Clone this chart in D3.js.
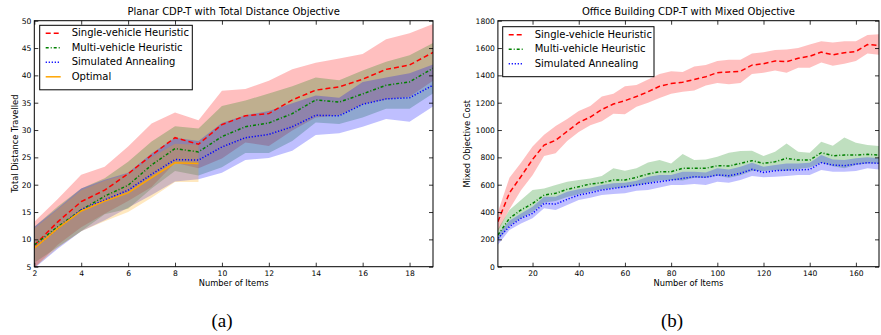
<!DOCTYPE html>
<html>
<head>
<meta charset="utf-8">
<script src="https://cdn.jsdelivr.net/npm/d3@7"></script>
<style>
  body { margin: 0; background: #fff; }
  svg { display: block; font-family: "DejaVu Sans", sans-serif; }
</style>
</head>
<body>
<svg width="881" height="335"></svg>
<script>
// ---- Panel (a): planar CDP-T, total distance ----
const itemsA = [2, 3, 4, 5, 6, 7, 8, 9, 10, 11, 12, 13, 14, 15, 16, 17, 18, 19];
const singleMeanA = [8.9, 13.2, 16.9, 19.0, 22.0, 25.4, 28.6, 27.4, 31.0, 32.6, 33.0, 35.5, 37.3, 37.9, 39.3, 41.1, 41.9, 44.2];
const singleHiA = [13.2, 17.4, 21.8, 23.3, 27.0, 31.2, 33.2, 31.8, 37.2, 37.5, 39.0, 41.1, 42.3, 43.1, 43.9, 46.6, 47.7, 49.4];
const singleLoA = [4.8, 9.0, 12.2, 14.7, 17.0, 19.6, 24.0, 23.0, 24.8, 27.7, 27.1, 29.9, 32.3, 32.7, 34.7, 35.6, 36.1, 39.0];
const multiMeanA = [9.0, 12.3, 15.4, 17.9, 19.9, 23.6, 26.6, 26.0, 28.8, 30.6, 31.3, 33.0, 35.5, 35.1, 36.6, 38.2, 38.8, 41.3];
const multiHiA = [12.3, 16.0, 19.3, 21.2, 24.2, 27.9, 30.7, 30.3, 34.4, 35.4, 36.7, 38.0, 39.6, 39.1, 40.9, 42.5, 43.7, 45.9];
const multiLoA = [5.7, 8.6, 11.5, 14.6, 15.6, 19.3, 22.5, 21.7, 23.2, 25.8, 25.8, 28.0, 31.4, 31.1, 32.3, 33.9, 33.9, 36.7];
const annealMeanA = [8.5, 12.0, 15.4, 17.2, 19.0, 21.9, 24.6, 24.5, 26.9, 28.6, 29.2, 30.6, 32.7, 32.6, 34.7, 35.7, 35.9, 38.2];
const annealHiA = [12.3, 15.7, 19.3, 20.9, 22.2, 25.7, 28.6, 28.0, 31.3, 32.7, 33.5, 34.9, 36.3, 35.9, 38.8, 39.6, 40.4, 42.0];
const annealLoA = [4.7, 8.3, 11.5, 13.5, 15.8, 18.1, 20.6, 21.0, 22.2, 24.5, 24.9, 26.2, 29.1, 29.4, 30.6, 32.0, 31.5, 34.3];
const itemsOpt = [2, 3, 4, 5, 6, 7, 8, 9];
const optimalMeanA = [8.4, 12.0, 15.2, 17.0, 18.5, 21.3, 24.0, 23.9];
const optimalHiA = [12.0, 15.5, 19.0, 20.7, 22.0, 25.0, 27.5, 27.3];
const optimalLoA = [4.8, 8.5, 11.5, 13.3, 15.0, 17.6, 20.5, 20.5];
const xTicksA = [2, 4, 6, 8, 10, 12, 14, 16, 18];
const yTicksA = [5, 10, 15, 20, 25, 30, 35, 40, 45, 50];

// ---- Panel (b): office building CDP-T, mixed objective ----
const itemsB = d3.range(5, 171, 5); // 5, 10, ... 170 (axis positions only)
const singleMeanB = [330, 540, 660, 785, 890, 925, 990, 1055, 1095, 1150, 1190, 1215, 1245, 1280, 1320, 1340, 1350, 1370, 1390, 1420, 1425, 1430, 1475, 1485, 1505, 1500, 1525, 1540, 1570, 1550, 1565, 1575, 1625, 1620];
const singleHiB = [400, 650, 760, 880, 965, 1030, 1080, 1140, 1175, 1245, 1265, 1320, 1330, 1370, 1410, 1430, 1425, 1465, 1475, 1505, 1515, 1515, 1560, 1570, 1585, 1590, 1600, 1625, 1650, 1640, 1650, 1650, 1695, 1700];
const singleLoB = [260, 420, 560, 670, 810, 830, 920, 985, 1035, 1065, 1120, 1115, 1170, 1200, 1235, 1265, 1280, 1290, 1325, 1345, 1335, 1345, 1410, 1420, 1435, 1420, 1455, 1455, 1495, 1470, 1485, 1505, 1560, 1550];
const multiMeanB = [232, 354, 415, 463, 524, 537, 566, 585, 605, 615, 634, 634, 654, 678, 695, 695, 720, 720, 720, 739, 737, 756, 776, 756, 768, 793, 780, 780, 834, 812, 817, 817, 822, 817];
const multiHiB = [275, 415, 488, 561, 573, 598, 622, 634, 646, 663, 720, 702, 720, 763, 780, 756, 824, 780, 785, 805, 834, 846, 849, 810, 841, 902, 841, 834, 915, 885, 946, 907, 890, 883];
const multiLoB = [190, 300, 355, 400, 470, 480, 510, 530, 550, 565, 575, 580, 595, 610, 630, 635, 630, 650, 650, 665, 650, 670, 700, 700, 705, 700, 715, 725, 760, 735, 720, 745, 755, 755];
const annealMeanB = [208, 293, 354, 390, 463, 458, 493, 524, 541, 561, 573, 585, 598, 610, 622, 634, 646, 659, 654, 671, 666, 683, 712, 690, 702, 707, 707, 712, 761, 744, 739, 751, 761, 756];
const annealHiB = [240, 337, 390, 439, 512, 512, 549, 566, 580, 598, 610, 615, 629, 659, 671, 671, 695, 695, 690, 720, 712, 732, 761, 732, 744, 756, 756, 761, 817, 785, 780, 793, 800, 793];
const annealLoB = [160, 268, 317, 354, 427, 415, 451, 488, 505, 524, 532, 537, 556, 561, 580, 598, 598, 605, 598, 622, 615, 634, 663, 654, 659, 663, 671, 671, 707, 695, 695, 700, 720, 712];
const xTicksB = [20, 40, 60, 80, 100, 120, 140, 160];
const yTicksB = [0, 200, 400, 600, 800, 1000, 1200, 1400, 1600, 1800];

const RED = "#ff0000";
const GREEN = "#008000";
const BLUE = "#0000ff";
const ORANGE = "#ffa500";

const svg = d3.select("svg");

function zip(xs, mean, lo, hi) {
  return xs.map((x, i) => ({ x, y: mean[i], lo: lo[i], hi: hi[i] }));
}

function drawPanel(p) {
  const x = d3.scaleLinear().domain(p.xDomain).range([p.left, p.right]);
  const y = d3.scaleLinear().domain(p.yDomain).range([p.bottom, p.top]);

  const g = svg.append("g");

  g.append("clipPath")
    .attr("id", p.id + "-clip")
    .append("rect")
    .attr("x", p.left)
    .attr("y", p.top)
    .attr("width", p.right - p.left)
    .attr("height", p.bottom - p.top);

  const plot = g.append("g").attr("clip-path", `url(#${p.id}-clip)`);

  const area = d3
    .area()
    .x((d) => x(d.x))
    .y0((d) => y(d.lo))
    .y1((d) => y(d.hi));

  const line = d3
    .line()
    .x((d) => x(d.x))
    .y((d) => y(d.y));

  // bands first, then the mean lines on top
  p.series.forEach((s) => {
    plot
      .append("path")
      .datum(s.data)
      .attr("d", area)
      .attr("fill", s.color)
      .attr("fill-opacity", 0.25)
      .attr("stroke", "none");
  });

  p.series.forEach((s) => {
    plot
      .append("path")
      .datum(s.data)
      .attr("d", line)
      .attr("fill", "none")
      .attr("stroke", s.color)
      .attr("stroke-width", 1.5)
      .attr("stroke-dasharray", s.dash);
  });

  // ---- axes, matplotlib style: ticks point inward on all four sides ----
  const fmt = d3.format("d");
  const axisStyle = (sel) => {
    sel.select(".domain").remove();
    sel.selectAll(".tick line").attr("stroke", "#000").attr("stroke-width", 0.8);
    sel.selectAll(".tick text").attr("fill", "#000").style("font-size", "7.6px");
  };

  g.append("g")
    .attr("transform", `translate(0,${p.bottom})`)
    .call(d3.axisBottom(x).tickValues(p.xTicks).tickFormat(fmt).tickSize(-4).tickPadding(4))
    .call(axisStyle)
    .attr("font-family", null);

  g.append("g")
    .attr("transform", `translate(0,${p.top})`)
    .call(d3.axisTop(x).tickValues(p.xTicks).tickSize(-4).tickFormat(""))
    .call(axisStyle);

  g.append("g")
    .attr("transform", `translate(${p.left},0)`)
    .call(d3.axisLeft(y).tickValues(p.yTicks).tickFormat(fmt).tickSize(-4).tickPadding(3))
    .call(axisStyle)
    .attr("font-family", null);

  g.append("g")
    .attr("transform", `translate(${p.right},0)`)
    .call(d3.axisRight(y).tickValues(p.yTicks).tickSize(-4).tickFormat(""))
    .call(axisStyle);

  g.append("rect")
    .attr("x", p.left)
    .attr("y", p.top)
    .attr("width", p.right - p.left)
    .attr("height", p.bottom - p.top)
    .attr("fill", "none")
    .attr("stroke", "#000")
    .attr("stroke-width", 1);

  // titles
  g.append("text")
    .attr("x", (p.left + p.right) / 2)
    .attr("y", 15)
    .attr("text-anchor", "middle")
    .style("font-size", "10px")
    .text(p.title);

  g.append("text")
    .attr("x", (p.left + p.right) / 2)
    .attr("y", 286)
    .attr("text-anchor", "middle")
    .style("font-size", "8.3px")
    .text("Number of Items");

  g.append("text")
    .attr("transform", `translate(${p.yLabelX},${(p.top + p.bottom) / 2}) rotate(-90)`)
    .attr("text-anchor", "middle")
    .attr("dominant-baseline", "middle")
    .style("font-size", "8.3px")
    .text(p.yLabel);

  // ---- legend ----
  const lg = g.append("g").attr("transform", `translate(${p.left + p.legend.dx},${p.top + p.legend.dy})`);
  const rowH = 14.5;
  lg.append("rect")
    .attr("width", p.legend.w)
    .attr("height", 8 + rowH * p.series.length - 1.5)
    .attr("fill", "#fff")
    .attr("stroke", "#000")
    .attr("stroke-width", 1);

  p.series.forEach((s, i) => {
    const cy = 8 + i * rowH;
    lg.append("line")
      .attr("x1", 6)
      .attr("x2", 21)
      .attr("y1", cy)
      .attr("y2", cy)
      .attr("stroke", s.color)
      .attr("stroke-width", 1.5)
      .attr("stroke-dasharray", s.dash);
    lg.append("text")
      .attr("x", 32)
      .attr("y", cy)
      .attr("dominant-baseline", "middle")
      .style("font-size", "10px")
      .text(s.name);
  });

  // caption below the panel
  svg.append("text")
    .attr("x", p.captionX)
    .attr("y", 327)
    .attr("text-anchor", "middle")
    .style("font-family", "'Liberation Serif', serif")
    .style("font-size", "19px")
    .text(p.caption);
}

drawPanel({
  id: "a",
  left: 34.3,
  right: 433,
  top: 20.7,
  bottom: 266.7,
  xDomain: [2, 19],
  yDomain: [5, 50],
  xTicks: xTicksA,
  yTicks: yTicksA,
  title: "Planar CDP-T with Total Distance Objective",
  yLabel: "Total Distance Travelled",
  yLabelX: 15.5,
  caption: "(a)",
  captionX: 222,
  legend: { dx: 5.4, dy: 4.6, w: 152.6 },
  series: [
    { name: "Single-vehicle Heuristic", color: RED, dash: "5,3", data: zip(itemsA, singleMeanA, singleLoA, singleHiA) },
    { name: "Multi-vehicle Heuristic", color: GREEN, dash: "3,2,1,2", data: zip(itemsA, multiMeanA, multiLoA, multiHiA) },
    { name: "Simulated Annealing", color: BLUE, dash: "1.2,1.8", data: zip(itemsA, annealMeanA, annealLoA, annealHiA) },
    { name: "Optimal", color: ORANGE, dash: null, data: zip(itemsOpt, optimalMeanA, optimalLoA, optimalHiA) },
  ],
});

drawPanel({
  id: "b",
  left: 497.9,
  right: 879,
  top: 20.7,
  bottom: 266.7,
  xDomain: [5, 170],
  yDomain: [0, 1800],
  xTicks: xTicksB,
  yTicks: yTicksB,
  title: "Office Building CDP-T with Mixed Objective",
  yLabel: "Mixed Objective Cost",
  yLabelX: 467.3,
  caption: "(b)",
  captionX: 672,
  legend: { dx: 4.8, dy: 6, w: 151.3 },
  series: [
    { name: "Single-vehicle Heuristic", color: RED, dash: "5,3", data: zip(itemsB, singleMeanB, singleLoB, singleHiB) },
    { name: "Multi-vehicle Heuristic", color: GREEN, dash: "3,2,1,2", data: zip(itemsB, multiMeanB, multiLoB, multiHiB) },
    { name: "Simulated Annealing", color: BLUE, dash: "1.2,1.8", data: zip(itemsB, annealMeanB, annealLoB, annealHiB) },
  ],
});
</script>
</body>
</html>
